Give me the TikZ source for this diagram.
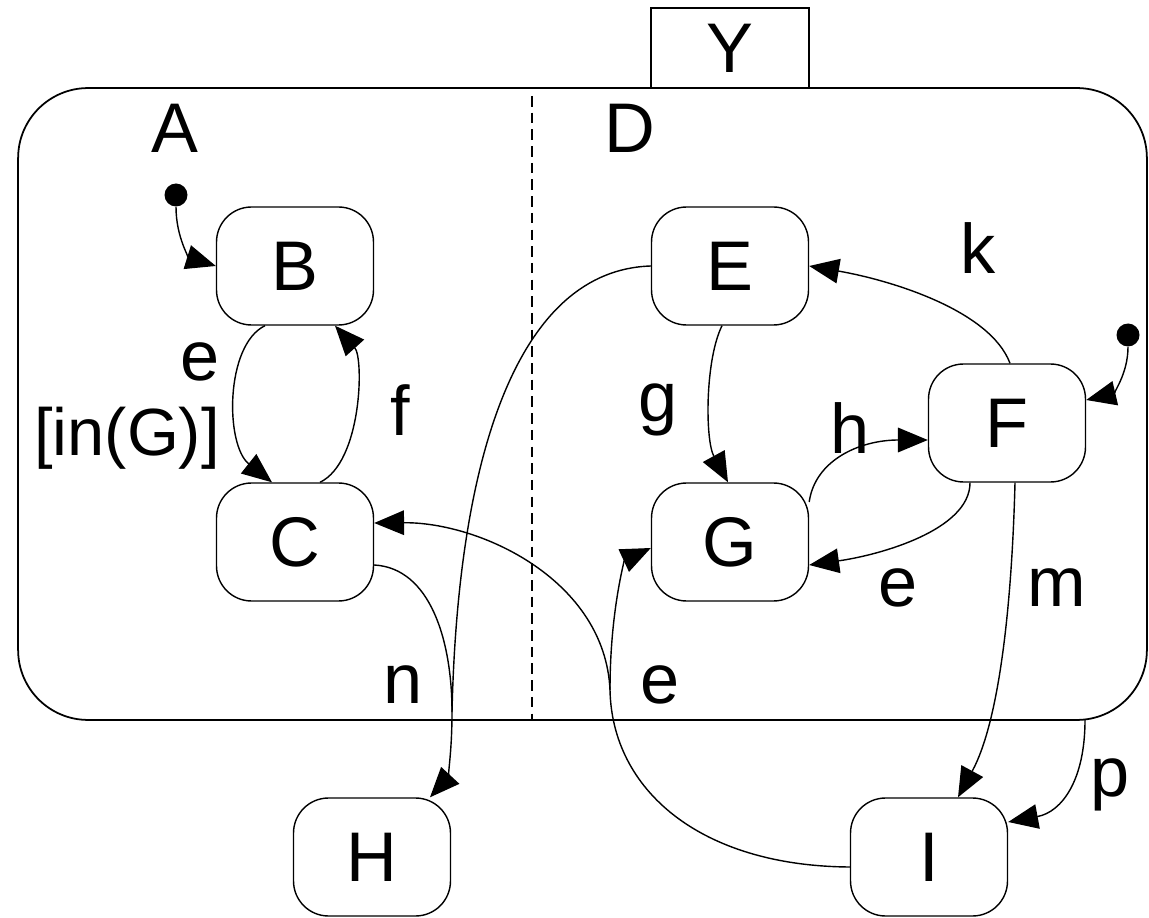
\documentclass[tikz,border=0pt]{standalone}
\usepackage{fontspec}
\setmainfont{Liberation Sans}
\usetikzlibrary{arrows.meta,calc}
\begin{document}
\begin{tikzpicture}[x=0.02cm,y=-0.02cm,
  every node/.style={font=\fontsize{40}{48}\selectfont},
  statebox/.style={draw,line width=0.8pt,rounded corners=0.7cm,minimum width=3.14cm,minimum height=2.36cm,inner sep=0pt},
  lbl/.style={inner sep=0pt},
  arr/.style={line width=0.8pt,-{Triangle[length=17pt,width=14pt]}},
  ln/.style={line width=0.8pt},
  initdot/.style={circle,fill=black,minimum size=0.46cm,inner sep=0pt}]
\useasboundingbox (0,0) rectangle (1149,918);
% container and Y
\node[draw,line width=0.9pt,minimum width=3.16cm,minimum height=1.6cm,inner sep=0pt] (Y) at (730,48) {Y};
\node[draw,line width=1pt,rounded corners=1.4cm,minimum width=22.58cm,minimum height=12.64cm,inner sep=0pt,fill=white] (cont) at (582.5,404) {};
\draw[line width=0.8pt,dashed,dash pattern=on 6pt off 3.5pt] (532,96) -- (532,720);
\node[lbl] (lA) at (175,128) {A};
\node[lbl] (lD) at (630,128) {D};
% states
\node[statebox] (B) at (295,266) {B};
\node[statebox] (C) at (295,542) {C};
\node[statebox] (E) at (730,266) {E};
\node[statebox] (G) at (730,542) {G};
\node[statebox] (F) at (1007,423) {F};
\node[statebox] (H) at (372,857) {H};
\node[statebox] (I) at (929,857) {I};
% initial dots
\node[initdot] (iA) at (176,195) {};
\node[initdot] (iD) at (1128,335) {};
% helper coordinates
\coordinate (J) at (452,712);
\coordinate (K) at (610,690);
\coordinate (pstart) at (1085,720);
% transitions
\draw[arr] (iA.south) .. controls (176,238) and (190,258) .. (B.west);
\draw[arr] (iD.south) .. controls (1128,375) and (1112,394) .. ($(F.east)+(0,-23)$);
\draw[arr] ($(B.south)+(-30,0)$) .. controls (225,345) and (225,445) .. ($(C.north)+(-23,0)$);
\draw[arr] ($(C.north)+(25,0)$) .. controls (362,462) and (364,358) .. ($(B.south)+(40,0)$);
\draw[arr] ($(E.south)+(-8,0)$) .. controls (705,360) and (705,440) .. ($(G.north)+(-2,0)$);
\draw[arr] ($(G.east)+(0,-40)$) .. controls (815,460) and (860,440) .. ($(F.west)+(0,17)$);
\draw[arr] ($(F.south)+(-37,0)$) .. controls (970,530) and (880,555) .. ($(G.east)+(0,23)$);
\draw[arr] ($(F.north)+(3,0)$) .. controls (990,310) and (890,280) .. (E.east);
\draw[arr] ($(F.south)+(8,0)$) .. controls (1012,600) and (1000,720) .. ($(I.north)+(29,0)$);
\draw[arr] (pstart) .. controls (1085,780) and (1062,812) .. ($(I.east)+(0,-35)$);
% join to H
\draw[ln] ($(C.east)+(0,23)$) .. controls (430,568) and (452,640) .. (J);
\draw[ln] (E.west) .. controls (520,270) and (458,450) .. (J);
\draw[arr] (J) .. controls (452,760) and (446,780) .. ($(H.north)+(58,0)$);
% fork from I
\draw[ln] ($(I.west)+(0,10)$) .. controls (700,866) and (612,790) .. (K);
\draw[arr] (K) .. controls (605,580) and (480,522) .. ($(C.east)+(0,-19)$);
\draw[arr] (K) .. controls (610,610) and (625,560) .. ($(G.west)+(0,6)$);
% labels
\node[lbl] (le1) at (200,362) {e};
\node[lbl,font=\fontsize{38}{46}\selectfont] (lguard) at (127,438) {[in(G)]};
\node[lbl] (lf) at (400,410) {f};
\node[lbl] (lg) at (658,410) {g};
\node[lbl] (lh) at (850,428) {h};
\node[lbl] (lk) at (978,248) {k};
\node[lbl] (le2) at (898,588) {e};
\node[lbl] (lm) at (1057,588) {m};
\node[lbl] (ln) at (403,685) {n};
\node[lbl] (le3) at (660,685) {e};
\node[lbl] (lp) at (1110,785) {p};
\end{tikzpicture}
\end{document}
